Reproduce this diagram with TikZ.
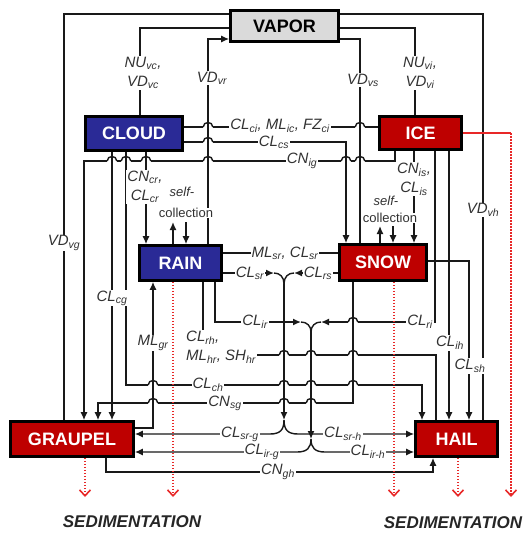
\documentclass[tikz,border=0pt]{standalone}
\usepackage{fontspec}
\setmainfont{Liberation Sans}
\usetikzlibrary{arrows.meta}
\definecolor{boxblue}{RGB}{42,42,150}
\definecolor{boxred}{RGB}{190,0,0}
\definecolor{vgray}{RGB}{218,218,218}
\definecolor{sedred}{RGB}{232,40,40}
\definecolor{lblgray}{RGB}{50,50,50}
\newcommand{\sbx}[1]{\textsubscript{#1}}
\newcommand{\hopat}[2]{%
 \fill[white] (#1-4.8,#2-1.4) rectangle (#1+4.8,#2+1.4);
 \draw[ln] (#1,#2-2) -- (#1,#2+2);
 \draw[ln] (#1-4.8,#2) .. controls (#1-4.8,#2-6) and (#1+4.8,#2-6) .. (#1+4.8,#2);}
\begin{document}
\begin{tikzpicture}[x=1pt,y=-1pt,
 box/.style={draw=black,line width=2.6pt,inner sep=0pt,font=\bfseries\fontsize{18}{18}\selectfont,text=white},
 ln/.style={line width=1.4pt,draw=black!90},
 arr/.style={ln,-{Latex[length=8pt,width=7pt]}},
 lbl/.style={fill=white,inner sep=1pt,text=lblgray,font=\itshape\fontsize{15}{19}\selectfont,align=center},
 slbl/.style={fill=white,inner sep=0.5pt,text=lblgray,font=\fontsize{13}{14}\selectfont},
 sed/.style={draw=sedred,line width=1.6pt,dash pattern=on 1.6pt off 1.4pt,-{Straight Barb[length=6pt,width=11pt]}},
 sedtxt/.style={text=black!85,font=\bfseries\itshape\fontsize{17}{17}\selectfont}
]
\useasboundingbox (0,0) rectangle (531,535);
% boxes
\node[box,fill=vgray,text=black,minimum width=108pt,minimum height=31pt] (vapor) at (284.5,26) {VAPOR};
\node[box,fill=boxblue,minimum width=97pt,minimum height=34pt] (cloud) at (134,133.5) {CLOUD};
\node[box,fill=boxred,minimum width=82pt,minimum height=33pt] (ice) at (420.5,133) {ICE};
\node[box,fill=boxblue,minimum width=82pt,minimum height=35pt] (rain) at (180.5,263) {RAIN};
\node[box,fill=boxred,minimum width=87pt,minimum height=36pt] (snow) at (383,262.5) {SNOW};
\node[box,fill=boxred,minimum width=123pt,minimum height=35pt] (graupel) at (72,439) {GRAUPEL};
\node[box,fill=boxred,minimum width=82pt,minimum height=35pt] (hail) at (456.5,439) {HAIL};
% junction coordinates
\coordinate (y1l) at (274,273); \coordinate (y1r) at (294,273);
\coordinate (y1) at (284,284); \coordinate (y1b) at (284,420);
\coordinate (y1bl) at (270,434); \coordinate (y1br) at (298,434);
\coordinate (y2l) at (301,322); \coordinate (y2r) at (321,322);
\coordinate (y2) at (311,332); \coordinate (y2b) at (311,439);
\coordinate (y2bl) at (297,452); \coordinate (y2br) at (325,452);
% vapor connections
\draw[ln] (vapor.west |- 0,14) -- (64,14) -- (graupel.north -| 64,0);
\draw[ln] (vapor.east |- 0,14) -- (483,14) -- (hail.north -| 483,0);
\draw[ln] (vapor.west |- 0,28) -| (cloud.north -| 140,0);
\draw[arr] (rain.north -| 208,0) |- (vapor.west |- 0,39);
\draw[ln] (vapor.east |- 0,39) -| (snow.north -| 360,0);
\draw[ln] (vapor.east |- 0,28) -| (ice.north -| 415,0);
% cloud / ice
\draw[ln] (cloud.east |- 0,127) -- (ice.west |- 0,127);
\draw[arr] (cloud.east |- 0,142) -| (snow.north -| 346,0);
\draw[arr] (ice.south -| 395,0) |- (84,161) -- (graupel.north -| 84,0);
\draw[arr] (cloud.south -| 112,0) -- (graupel.north -| 112,0);
\draw[arr] (cloud.south -| 126,0) |- (422,385) -- (hail.north -| 422,0);
\draw[arr] (cloud.south -| 146,0) -- (rain.north -| 146,0);
% self-collection rain
\draw[arr] (rain.north -| 173,0) -- (173,222);
\draw[arr] (186,222) -- (rain.north -| 186,0);
% rain-snow
\draw[ln] (rain.east |- 0,253) -- (snow.west |- 0,253);
\draw[arr] (rain.east |- y1l) -- (y1l);
\draw[arr] (snow.west |- y1r) -- (y1r);
\draw[ln] (y1l) .. controls (280,273) and (284,277) .. (y1);
\draw[ln] (y1r) .. controls (288,273) and (284,277) .. (y1);
\draw[arr] (y1) -- (y1b);
\draw[arr] (y1b) .. controls (284,430) and (280,434) .. (y1bl) -- (graupel.east |- y1bl);
\draw[arr] (y1b) .. controls (284,430) and (288,434) .. (y1br) -- (hail.west |- y1br);
% rain-ice
\draw[arr] (rain.south -| 215,0) |- (y2l);
\draw[arr] (ice.south -| 435,0) |- (y2r);
\draw[ln] (y2l) .. controls (307,322) and (311,326) .. (y2);
\draw[ln] (y2r) .. controls (315,322) and (311,326) .. (y2);
\draw[arr] (y2) -- (y2b);
\draw[arr] (y2b) .. controls (311,448) and (307,452) .. (y2bl) -- (graupel.east |- y2bl);
\draw[arr] (y2b) .. controls (311,448) and (315,452) .. (y2br) -- (hail.west |- y2br);
% graupel melting
\draw[arr] (graupel.east |- 0,428) -| (rain.south -| 153,0);
% rain-hail
\node[lbl,align=left,anchor=west] (lrh) at (185,347) {CL\sbx{rh},\\ML\sbx{hr}, SH\sbx{hr}};
\draw[ln] (rain.south -| 203,0) -- (lrh.north -| 203,0);
\draw[ln] (lrh.east |- 0,355) -| (hail.north -| 436,0);
% snow / ice to others
\draw[arr] (snow.south -| 353,0) |- (98,403) -- (graupel.north -| 98,0);
\draw[arr] (ice.south -| 449,0) -- (hail.north -| 449,0);
\draw[arr] (snow.east |- 0,261) -| (hail.north -| 469,0);
\draw[arr] (ice.south -| 414,0) -- (snow.north -| 414,0);
\draw[arr] (snow.north -| 380,0) -- (380,226);
\draw[arr] (393,226) -- (snow.north -| 393,0);
\draw[arr] (graupel.south -| 106,0) |- (433,472) -- (hail.south -| 433,0);
% hops
\foreach \hx/\hy in {208/127, 360/127, 208/142, 112/161, 126/161, 146/161, 208/161, 346/161, 360/161, 353/322, 284/355, 311/355, 353/355, 153/385, 284/385, 311/385, 353/385, 153/403, 284/403, 311/403} {\hopat{\hx}{\hy}}
% labels
\node[lbl] (lvdvg) at (64,243) {VD\sbx{vg}};
\node[lbl] (lvdvh) at (483,210) {VD\sbx{vh}};
\node[lbl] (lnuvc) at (143,73) {NU\sbx{vc},\\VD\sbx{vc}};
\node[lbl] (lvdvr) at (212,78) {VD\sbx{vr}};
\node[lbl] (lvdvs) at (363,80) {VD\sbx{vs}};
\node[lbl] (lnuvi) at (420,73) {NU\sbx{vi},\\VD\sbx{vi}};
\node[lbl] (lci) at (280,126) {CL\sbx{ci}, ML\sbx{ic}, FZ\sbx{ci}};
\node[lbl] (lcs) at (274,142) {CL\sbx{cs}};
\node[lbl] (lig) at (302,161) {CN\sbx{ig}};
\node[lbl] (lcg) at (112,298) {CL\sbx{cg}};
\node[lbl] (lcr) at (145,187) {CN\sbx{cr},\\CL\sbx{cr}};
\node[slbl,font=\itshape\fontsize{13}{14}\selectfont] (lself1a) at (182,192) {self-};
\node[slbl] (lself1b) at (186,213) {collection};
\node[lbl] (lsr) at (285,253) {ML\sbx{sr}, CL\sbx{sr}};
\node[lbl] (lsr2) at (250,273) {CL\sbx{sr}};
\node[lbl] (lrs) at (318,273) {CL\sbx{rs}};
\node[lbl] (lir) at (255,322) {CL\sbx{ir}};
\node[lbl] (lri) at (420,322) {CL\sbx{ri}};
\node[lbl] (lgr) at (153,343) {ML\sbx{gr}};
\node[lbl] (lch) at (208,385) {CL\sbx{ch}};
\node[lbl] (lsg) at (225,403) {CN\sbx{sg}};
\node[lbl] (lsrg) at (240,434) {CL\sbx{sr-g}};
\node[lbl] (lirg) at (262,452) {CL\sbx{ir-g}};
\node[lbl] (lsrh) at (343,434) {CL\sbx{sr-h}};
\node[lbl] (lirh) at (368,452) {CL\sbx{ir-h}};
\node[lbl] (lgh) at (278,472) {CN\sbx{gh}};
\node[lbl] (lis) at (414,179) {CN\sbx{is},\\CL\sbx{is}};
\node[slbl,font=\itshape\fontsize{13}{14}\selectfont] (lself2a) at (386,201) {self-};
\node[slbl] (lself2b) at (390,218) {collection};
\node[lbl] (lih) at (450,343) {CL\sbx{ih}};
\node[lbl] (lsh) at (470,366) {CL\sbx{sh}};
% sedimentation
\coordinate (sg) at (85,497); \coordinate (sr) at (173,497);
\coordinate (ss) at (394,497); \coordinate (sh) at (458,497);
\coordinate (sic) at (511,133); \coordinate (si) at (511,497);
\draw[sed] (graupel.south -| sg) -- (sg);
\draw[sed] (rain.south -| sr) -- (sr);
\draw[sed] (snow.south -| ss) -- (ss);
\draw[sed] (hail.south -| sh) -- (sh);
\draw[draw=sedred,line width=1.3pt] (ice.east) -- (sic);
\draw[sed] (sic) -- (si);
\node[sedtxt] (sed1) at (132,522) {SEDIMENTATION};
\node[sedtxt] (sed2) at (453,523) {SEDIMENTATION};
\end{tikzpicture}
\end{document}
